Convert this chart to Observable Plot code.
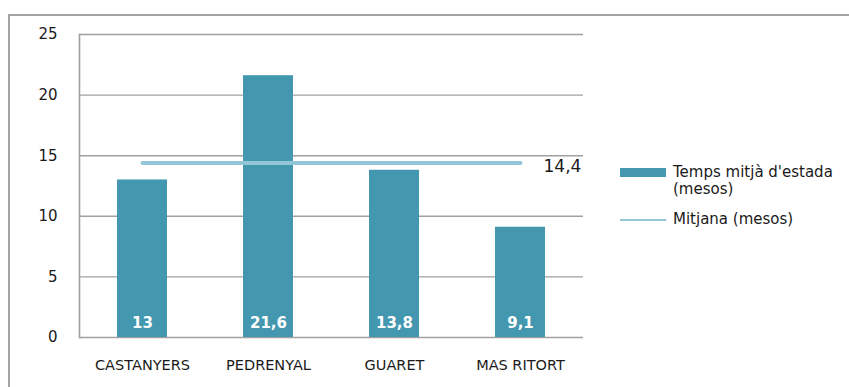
<!DOCTYPE html>
<html>
<head>
<meta charset="utf-8">
<script src="https://cdn.jsdelivr.net/npm/d3@7"></script>
<script src="https://cdn.jsdelivr.net/npm/@observablehq/plot@0.6"></script>
<style>
  html, body { margin: 0; padding: 0; background: #fff; }
  body { width: 849px; height: 387px; position: relative; overflow: hidden; font-family: "DejaVu Sans", sans-serif; color: #1a1a1a; }
  #border { position: absolute; left: 8px; top: 14px; width: 845px; height: 400px; border-top: 2px solid #a3a3a3; border-left: 2px solid #a3a3a3; box-sizing: border-box; }
  #chart { position: absolute; left: 0; top: 0; }
  #legend { position: absolute; left: 620px; top: 164px; font-size: 15px; line-height: 17px; }
  .item { display: flex; align-items: flex-start; margin-bottom: 13px; }
  .swatch { width: 46px; flex: none; margin-right: 7px; }
</style>
</head>
<body>
<div id="border"></div>
<div id="chart"></div>
<div id="legend"></div>
<script>
// Average stay per centre, in months
const categories = ["CASTANYERS", "PEDRENYAL", "GUARET", "MAS RITORT"];
const stayMonths = [13, 21.6, 13.8, 9.1];
const meanMonths = 14.4;
const yTicks = [0, 5, 10, 15, 20, 25];
const seriesLabels = ["Temps mitjà d'estada<br>(mesos)", "Mitjana (mesos)"];

const barColor = "#4398b0";
const meanColor = "#93c6d6";
const gridColor = "#a0a0a0";

const rows = categories.map((c, i) => ({category: c, value: stayMonths[i]}));
const fmt = v => String(v).replace(".", ",");

const chart = Plot.plot({
  width: 600,
  height: 387,
  marginLeft: 79,
  marginRight: 17,
  marginTop: 34,
  marginBottom: 50,
  style: {fontFamily: "DejaVu Sans, sans-serif", color: "#1a1a1a", background: "transparent"},
  x: {domain: categories, paddingInner: 0.6, paddingOuter: 0.3, label: null},
  y: {domain: [0, 25], label: null},
  marks: [
    Plot.ruleY(yTicks, {stroke: gridColor, strokeWidth: 1.4, strokeOpacity: 1}),
    Plot.frame({anchor: "left", stroke: gridColor, strokeWidth: 1.6}),
    Plot.axisY({ticks: yTicks, tickSize: 0, tickPadding: 22, fontSize: 15, label: null}),
    Plot.axisX({tickSize: 0, tickPadding: 22, fontSize: 14.5, label: null}),
    Plot.barY(rows, {x: "category", y: "value", fill: barColor}),
    Plot.text(rows, {x: "category", y: 0, text: d => fmt(d.value), fill: "white",
      fontWeight: "bold", fontSize: 15, lineAnchor: "bottom", dy: -10}),
    Plot.lineY(categories, {x: d => d, y: () => meanMonths, stroke: meanColor,
      strokeWidth: 4, strokeLinecap: "round"}),
    Plot.text([categories[categories.length - 1]], {x: d => d, y: () => meanMonths,
      text: () => fmt(meanMonths), textAnchor: "start", dx: 23, dy: 4, fontSize: 17})
  ]
});
document.getElementById("chart").append(chart);

// Legend beside the plot
const legend = document.getElementById("legend");
legend.innerHTML = `
  <div class="item"><div class="swatch" style="height:9px;background:${barColor};margin-top:4px"></div><div>${seriesLabels[0]}</div></div>
  <div class="item"><div class="swatch" style="height:2px;background:${meanColor};margin-top:8px"></div><div>${seriesLabels[1]}</div></div>
`;
</script>
</body>
</html>
